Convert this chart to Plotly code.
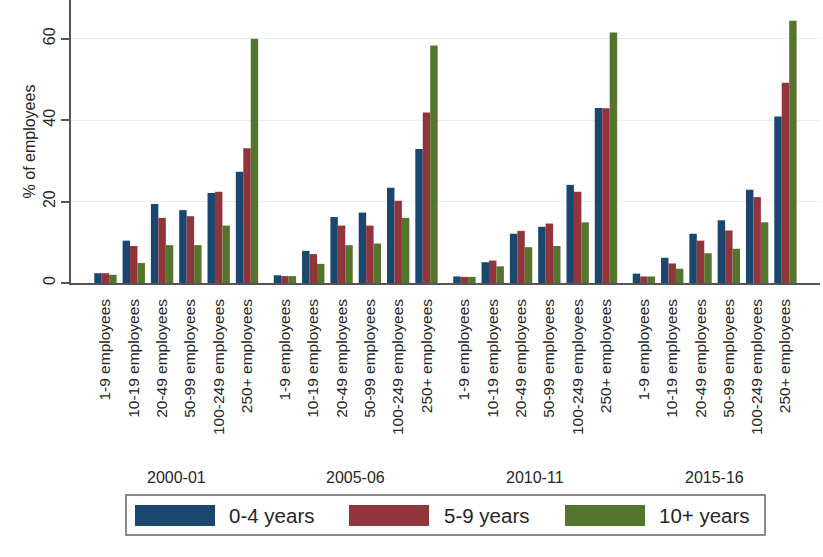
import plotly.graph_objects as go

years = ["2000-01", "2005-06", "2010-11", "2015-16"]
sizes = ["1-9 employees", "10-19 employees", "20-49 employees",
         "50-99 employees", "100-249 employees", "250+ employees"]
series_names = ["0-4 years", "5-9 years", "10+ years"]

# values per year group, in size order
tenure_0_4 = [
    [2.4, 10.4, 19.4, 17.9, 22.1, 27.3],
    [1.9, 7.9, 16.2, 17.3, 23.4, 32.9],
    [1.6, 5.1, 12.1, 13.8, 24.1, 43.0],
    [2.3, 6.2, 12.1, 15.4, 22.9, 40.9],
]
tenure_5_9 = [
    [2.4, 9.1, 16.0, 16.4, 22.4, 33.1],
    [1.7, 7.1, 14.1, 14.1, 20.2, 41.9],
    [1.5, 5.5, 12.8, 14.6, 22.4, 42.9],
    [1.6, 4.8, 10.4, 12.9, 21.1, 49.2],
]
tenure_10 = [
    [2.0, 4.9, 9.3, 9.3, 14.1, 60.0],
    [1.7, 4.7, 9.3, 9.7, 16.0, 58.3],
    [1.5, 4.1, 8.8, 9.1, 14.9, 61.5],
    [1.6, 3.5, 7.3, 8.4, 14.9, 64.4],
]
colors = ["#1a476f", "#90353b", "#55752f"]

GROUP_STEP = 6.34
xpos = []
ticktext = []
for g in range(len(years)):
    for i in range(len(sizes)):
        xpos.append(g * GROUP_STEP + i)
        ticktext.append(sizes[i])

fig = go.Figure()
for name, vals, col in zip(series_names, [tenure_0_4, tenure_5_9, tenure_10], colors):
    flat = [v for grp in vals for v in grp]
    fig.add_trace(go.Bar(x=xpos, y=flat, name=name, marker_color=col,
                         marker_line_width=0, showlegend=False))

FONT = "Liberation Sans, Arial, sans-serif"
TXT = "#262626"
AX = "#555555"

W, H = 823, 557
L, R, T, B = 71, 3, 0, 274
pw, ph = W - L - R, H - T - B

def px_x(x):
    return (x - L) / pw

def px_y(y):
    return (H - B - y) / ph

# year group labels
for g, yr in enumerate(years):
    cx = g * GROUP_STEP + (len(sizes) - 1) / 2
    fig.add_annotation(x=cx, xref="x", y=px_y(477), yref="paper", text=yr,
                       showarrow=False, xanchor="center", yanchor="middle",
                       font=dict(family=FONT, size=16, color=TXT))

# legend box
fig.add_shape(type="rect", xref="paper", yref="paper",
              x0=px_x(126), x1=px_x(765), y0=px_y(495), y1=px_y(535),
              line=dict(color="#666666", width=1.5), fillcolor="white", layer="below")
sw_left = [135, 349, 565]
txt_left = [227, 442, 657]
for k in range(3):
    fig.add_shape(type="rect", xref="paper", yref="paper",
                  x0=px_x(sw_left[k]), x1=px_x(sw_left[k] + 80),
                  y0=px_y(505), y1=px_y(526),
                  line=dict(width=0), fillcolor=colors[k])
    fig.add_annotation(x=px_x(txt_left[k]), xref="paper", y=px_y(515.5), yref="paper",
                       text=series_names[k], showarrow=False, xanchor="left",
                       yanchor="middle", font=dict(family=FONT, size=20.5, color=TXT))

fig.update_layout(
    width=W, height=H,
    margin=dict(l=L, r=R, t=T, b=B),
    paper_bgcolor="white", plot_bgcolor="white",
    barmode="group", bargap=0.21, bargroupgap=0,
    font=dict(family=FONT, color=TXT),
)
fig.update_xaxes(
    range=[-1.217, 3 * GROUP_STEP + 5 + 1.22],
    tickmode="array", tickvals=xpos, ticktext=ticktext, tickangle=-90,
    tickfont=dict(family=FONT, size=15.5, color=TXT),
    showline=True, linecolor=AX, linewidth=1.5, ticks="",
    ticklabelstandoff=8, showgrid=False, zeroline=False,
)
fig.update_yaxes(
    range=[0, 69.5], tickvals=[0, 20, 40, 60], tickangle=-90,
    tickfont=dict(family=FONT, size=16, color=TXT),
    showline=True, linecolor=AX, linewidth=1.5, ticks="outside", ticklen=8,
    tickcolor=AX, tickwidth=1.5,
    showgrid=True, gridcolor="#e6eff1", gridwidth=1, zeroline=False,
    title=dict(text="% of employees", font=dict(family=FONT, size=16, color=TXT),
               standoff=1),
)

fig.write_html("out.html", config={"displayModeBar": False},
               post_script="document.body.style.margin='0';")
